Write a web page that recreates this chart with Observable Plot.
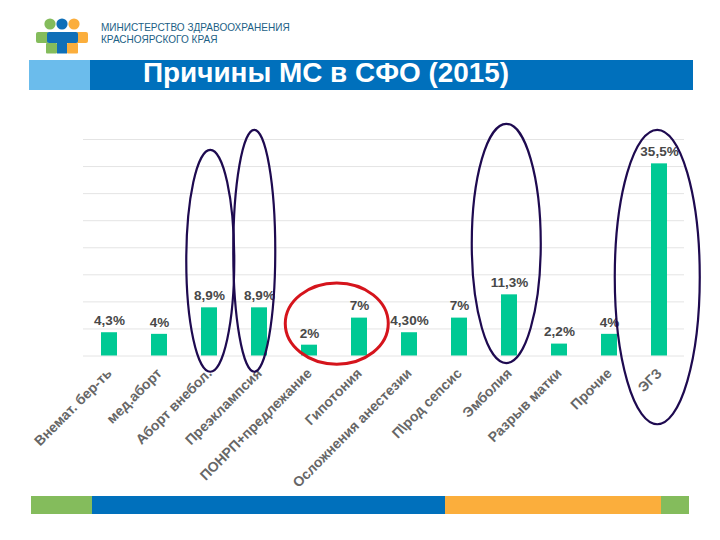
<!DOCTYPE html>
<html>
<head>
<meta charset="utf-8">
<script src="https://cdn.jsdelivr.net/npm/d3@7"></script>
<script src="https://cdn.jsdelivr.net/npm/@observablehq/plot@0.6"></script>
<style>
  body { margin: 0; background: #fff; font-family: "Liberation Sans", Arial, sans-serif; }
  #page { position: relative; width: 720px; height: 540px; overflow: hidden; }
  #page > div, #page > svg.logo { position: absolute; }
  #chart { left: 0; top: 0; }
  .ministry { left: 101px; top: 22px; font-size: 10.05px; line-height: 12px; color: #1c5f86; white-space: nowrap; }
  .band { height: 30px; top: 60px; }
  .title { left: 143px; top: 57px; color: #fff; font-weight: bold; font-size: 27.9px; line-height: 32px; white-space: nowrap; }
  .foot { top: 496px; height: 18px; }
</style>
</head>
<body>
<div id="page">
  <div id="chart"></div>
  <svg class="logo" style="left:36px;top:18px" width="52" height="36" viewBox="0 0 52 36">
    <circle cx="14" cy="6" r="5.6" fill="#84bc5c"/>
    <circle cx="26" cy="6" r="5.6" fill="#0f6fb8"/>
    <circle cx="38" cy="6" r="5.6" fill="#fbae3c"/>
    <rect x="0" y="14" width="13" height="11" rx="2" fill="#84bc5c"/>
    <rect x="40" y="14" width="12" height="11" rx="2" fill="#fbae3c"/>
    <rect x="10" y="25" width="11" height="10.500" rx="1" fill="#84bc5c"/>
    <rect x="31" y="25" width="11" height="10.500" rx="1" fill="#fbae3c"/>
    <rect x="11" y="14" width="31" height="11" rx="2" fill="#0f6fb8"/>
    <rect x="21" y="22" width="10" height="13.500" fill="#0f6fb8"/>
  </svg>
  <div class="ministry">МИНИСТЕРСТВО ЗДРАВООХРАНЕНИЯ<br>КРАСНОЯРСКОГО КРАЯ</div>
  <div class="band" style="left:29px;width:61px;background:#6bbcec"></div>
  <div class="band" style="left:90px;width:603px;background:#0070bc"></div>
  <div class="title">Причины МС в СФО (2015)</div>
  <div class="foot" style="left:31px;width:61px;background:#84bc5c"></div>
  <div class="foot" style="left:92px;width:353px;background:#0070bc"></div>
  <div class="foot" style="left:445px;width:216px;background:#fbae3c"></div>
  <div class="foot" style="left:661px;width:28px;background:#84bc5c"></div>
</div>
<script>
const categories = ["Внемат. бер-ть", "мед.аборт", "Аборт внебол.", "Преэклампсия", "ПОНРП+предлежание", "Гипотония",
  "Осложнения анестезии", "П\\род сепсис", "Эмболия", "Разрыв матки", "Прочие", "ЭГЗ"]
const values = [4.3, 4, 8.9, 8.9, 2, 7, 4.3, 7, 11.3, 2.2, 4, 35.5]
const valueLabels = ["4,3%", "4%", "8,9%", "8,9%", "2%", "7%", "4,30%", "7%", "11,3%", "2,2%", "4%", "35,5%"]
const gridValues = [0, 5, 10, 15, 20, 25, 30, 35, 40]

const table = categories.map((c, i) => ({category: c, value: values[i], label: valueLabels[i]}))

// hand drawn ovals from the slide: x = category (dx in px), y range in percent
const ovals = [
  {category: "Аборт внебол.", dx: 1.5, rx: 24, top: 38, bottom: -3, color: "#1e0a50", width: 2.2},
  {category: "Преэклампсия", dx: -4.5, rx: 21, top: 41.7, bottom: -3, color: "#1e0a50", width: 2.2},
  {category: "Эмболия", dx: -2.5, rx: 34.5, top: 42.8, bottom: -1.4, color: "#1e0a50", width: 2.2},
  {category: "ЭГЗ", dx: -1.5, rx: 42.5, top: 41.7, bottom: -12.7, color: "#1e0a50", width: 2.2},
  {category: "ПОНРП+предлежание", dx: 28, rx: 51.5, top: 13.4, bottom: -1.6, color: "#d5141c", width: 3}
]

function drawOvals(index, scales) {
  const half = 50.1 * 0.31 / 2
  const g = d3.create("svg:g").attr("fill", "none")
  for (const o of ovals) {
    g.append("ellipse")
      .attr("cx", scales.x(o.category) + half + o.dx)
      .attr("cy", (scales.y(o.top) + scales.y(o.bottom)) / 2)
      .attr("rx", o.rx)
      .attr("ry", (scales.y(o.bottom) - scales.y(o.top)) / 2)
      .attr("stroke", o.color)
      .attr("stroke-width", o.width)
  }
  return g.node()
}

const chart = Plot.plot({
  width: 720,
  height: 540,
  marginTop: 139,
  marginBottom: 184.5,
  marginLeft: 83,
  marginRight: 36,
  style: {fontFamily: "Liberation Sans", background: "transparent"},
  x: {domain: categories, paddingInner: 0.69, paddingOuter: 0.345, label: null},
  y: {domain: [0, 40], label: null, axis: null},
  marks: [
    Plot.ruleY(gridValues, {stroke: "#e4e4e4", strokeWidth: 1}),
    Plot.barY(table, {x: "category", y: "value", fill: "#00c994"}),
    Plot.text(table, {x: "category", y: "value", text: "label", dy: -12, fontSize: 13.5, fontWeight: "bold", fill: "#484848"}),
    Plot.axisX({tickRotate: -45, tickSize: 0, tickPadding: 15, fontSize: 14, fontWeight: "bold", fill: "#666666", label: null}),
    drawOvals
  ]
})
document.getElementById("chart").append(chart)
</script>
</body>
</html>
